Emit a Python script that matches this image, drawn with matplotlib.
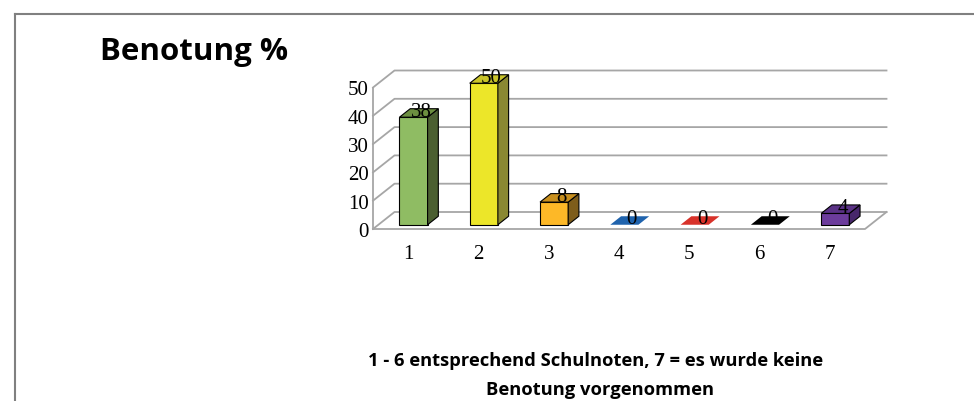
import matplotlib
matplotlib.use("Agg")
import matplotlib.pyplot as plt
from matplotlib.patches import Polygon

# Daten
kategorien = [1, 2, 3, 4, 5, 6, 7]
prozent = [38, 50, 8, 0, 0, 0, 4]
y_ticks = [0, 10, 20, 30, 40, 50]

# Farben je Balken: Vorderseite, Oberseite, Seite
farbe_vorne = ['#8fbc63', '#ece629', '#fdb827', '#1f63ad', '#d8322a', '#000000', '#6c3c9c']
farbe_oben = ['#6c8f40', '#c9c42a', '#c88f1e', '#1f63ad', '#d8322a', '#000000', '#5a3286']
farbe_seite = ['#4b5f31', '#8a8832', '#7e5d1b', '#1f63ad', '#d8322a', '#000000', '#47276b']

titel = "Benotung %"
unterschrift_1 = "1 - 6 entsprechend Schulnoten, 7 = es wurde keine"
unterschrift_2 = "Benotung vorgenommen"

W, H = 974, 402
fig = plt.figure(figsize=(W / 100, H / 100), dpi=100)

# Rahmen
fig.add_artist(plt.Line2D([15 / W, 1], [1 - 15 / H, 1 - 15 / H], color='#808080', lw=1.5))
fig.add_artist(plt.Line2D([15 / W, 15 / W], [0, 1 - 15 / H], color='#808080', lw=1.5))

# Achse = vordere Ebene des 3D-Diagramms
x0, x1 = 373, 865
y0, y1 = 230, 88.5
ax = fig.add_axes([x0 / W, 1 - y0 / H, (x1 - x0) / W, (y0 - y1) / H])
ax.set_xlim(0.5, 7.5)
ax.set_ylim(0, 50)
for s in ax.spines.values():
    s.set_visible(False)

# Tiefenverschiebung (in Datenkoordinaten)
DX = 21.5 / ((x1 - x0) / 7)
DY = 17 / ((y0 - y1) / 50)


def proj(x, y, d):
    return (x + d * DX, y + d * DY)


grid_col = '#a6a6a6'
# Gitterlinien: linke Wand + Rückwand
for v in y_ticks:
    pts = [proj(0.5, v, 0), proj(0.5, v, 1), proj(7.5, v, 1)]
    ax.plot([p[0] for p in pts], [p[1] for p in pts], color=grid_col, lw=1.3, clip_on=False, zorder=1)
# Boden vorne + rechts
pts = [proj(0.5, 0, 0), proj(7.5, 0, 0), proj(7.5, 0, 1)]
ax.plot([p[0] for p in pts], [p[1] for p in pts], color=grid_col, lw=1.3, clip_on=False, zorder=1)
ax.plot([0.5, 0.5], [0, 50], color=grid_col, lw=1.3, clip_on=False, zorder=1)

# 3D-Balken
bw = 0.4
d_a, d_b = 0.25, 0.75
for i, (k, v) in enumerate(zip(kategorien, prozent)):
    l, r = k - bw / 2, k + bw / 2
    top = [proj(l, v, d_a), proj(r, v, d_a), proj(r, v, d_b), proj(l, v, d_b)]
    if v > 0:
        front = [proj(l, 0, d_a), proj(r, 0, d_a), proj(r, v, d_a), proj(l, v, d_a)]
        side = [proj(r, 0, d_a), proj(r, 0, d_b), proj(r, v, d_b), proj(r, v, d_a)]
        ax.add_patch(Polygon(front, closed=True, fc=farbe_vorne[i], ec='black', lw=0.8, clip_on=False, zorder=3))
        ax.add_patch(Polygon(side, closed=True, fc=farbe_seite[i], ec='black', lw=0.8, clip_on=False, zorder=3))
        ax.add_patch(Polygon(top, closed=True, fc=farbe_oben[i], ec='black', lw=0.8, clip_on=False, zorder=3))
    else:
        ax.add_patch(Polygon(top, closed=True, fc=farbe_vorne[i], ec='none', clip_on=False, zorder=3))
    lx, ly = proj(k, v, 0.6)
    ax.text(lx, ly, f"{v}", ha='center', va='center', fontsize=15,
            family='Liberation Serif', color='black', zorder=4)

# Achsenbeschriftung
ax.set_yticks(y_ticks)
ax.set_yticklabels([str(t) for t in y_ticks], family='Liberation Serif', fontsize=15)
ax.set_xticks(kategorien)
ax.set_xticklabels([str(k) for k in kategorien], family='Liberation Serif', fontsize=15)
ax.tick_params(axis='y', length=0, pad=3)
ax.tick_params(axis='x', length=0, pad=11)

fig.text(100 / W, 1 - 52 / H, titel, ha='left', va='center', fontsize=22.5,
         family='Open Sans', weight='bold')
fig.text(596 / W, 1 - 361 / H, unterschrift_1, ha='center', va='center', fontsize=13.2,
         family='Open Sans', weight='bold')
fig.text(600 / W, 1 - 390 / H, unterschrift_2, ha='center', va='center', fontsize=13.2,
         family='Open Sans', weight='bold')

fig.savefig("out.png", dpi=100)
